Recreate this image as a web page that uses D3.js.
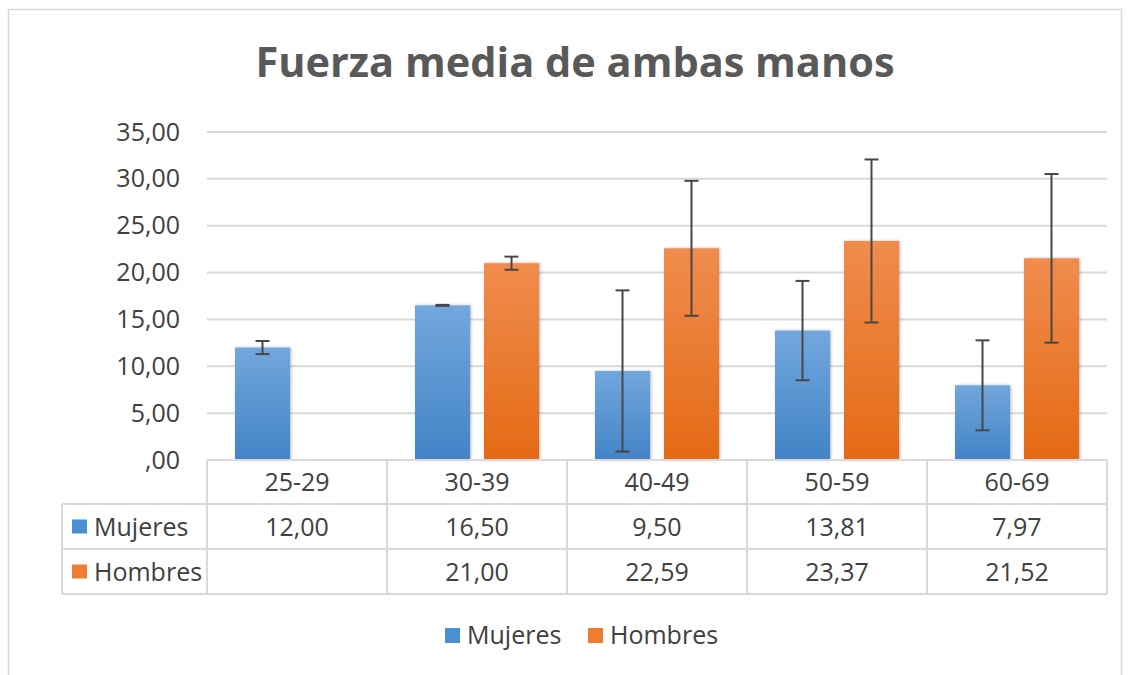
<!DOCTYPE html>
<html>
<head>
<meta charset="utf-8">
<script src="https://cdn.jsdelivr.net/npm/d3@7"></script>
<style>
  html, body { margin: 0; padding: 0; background: #fff; }
  svg { display: block; }
</style>
</head>
<body>
<div id="chart"></div>
<script>
// ---- Data ----
const ageGroups = ['25-29', '30-39', '40-49', '50-59', '60-69']
const seriesNames = ['Mujeres', 'Hombres']
const mujeres = [12.00, 16.50, 9.50, 13.81, 7.97]
const hombres = [null, 21.00, 22.59, 23.37, 21.52]
const mujeresErr = [0.7, 0.05, 8.6, 5.3, 4.8]
const hombresErr = [null, 0.7, 7.2, 8.7, 9.0]
const yTicks = [0, 5, 10, 15, 20, 25, 30, 35]

const W = 1130, H = 675
const plot = { left: 207, right: 1107, top: 132, bottom: 460 }
const rowsY = [460, 504, 549, 594]
const tableLeft = 62
const font = '"Open Sans", sans-serif'
const fontSize = '25px'
const textColor = '#404040'
const gridColor = '#d9d9d9'
const colors = {
  Mujeres: { top: '#72a7dd', bottom: '#4283c6', key: '#4a8fd2' },
  Hombres: { top: '#f08c4e', bottom: '#e46a14', key: '#ed7d31' }
}

const locale = d3.formatLocale({ decimal: ',', thousands: '.', grouping: [3], currency: ['', ''] })
const fmt = locale.format('.2f')
const tickFmt = d => d === 0 ? ',00' : fmt(d)

const svg = d3.select('#chart').append('svg')
  .attr('width', W).attr('height', H)

// ---- Defs: gradients + shadow ----
const defs = svg.append('defs')
seriesNames.forEach(s => {
  const g = defs.append('linearGradient')
    .attr('id', 'grad-' + s).attr('x1', 0).attr('y1', 0).attr('x2', 0).attr('y2', 1)
  g.append('stop').attr('offset', '0%').attr('stop-color', colors[s].top)
  g.append('stop').attr('offset', '100%').attr('stop-color', colors[s].bottom)
})
const shadow = defs.append('filter').attr('id', 'shadow')
  .attr('x', '-20%').attr('y', '-5%').attr('width', '140%').attr('height', '110%')
shadow.append('feDropShadow')
  .attr('dx', 1).attr('dy', 0).attr('stdDeviation', 1.5)
  .attr('flood-color', '#000').attr('flood-opacity', 0.3)

// ---- Outer frame ----
svg.append('rect')
  .attr('x', 8.5).attr('y', 9.5).attr('width', 1113).attr('height', 680)
  .attr('fill', 'none').attr('stroke', gridColor).attr('stroke-width', 1.5)

// ---- Title ----
svg.append('text')
  .attr('x', 575).attr('y', 77)
  .attr('text-anchor', 'middle')
  .attr('font-family', font).attr('font-weight', 'bold').attr('font-size', '41.5px')
  .attr('fill', '#595959')
  .text('Fuerza media de ambas manos')

// ---- Scales ----
const x = d3.scaleBand().domain(ageGroups).range([plot.left, plot.right])
const xs = d3.scaleBand().domain(seriesNames).range([0, x.bandwidth()])
  .paddingInner(0.203).paddingOuter(0.406)
const y = d3.scaleLinear().domain([0, 35]).range([plot.bottom, plot.top])

// Gridlines
svg.append('g')
  .selectAll('line')
  .data(yTicks.filter(d => d > 0))
  .join('line')
  .attr('x1', plot.left).attr('x2', plot.right)
  .attr('y1', d => y(d)).attr('y2', d => y(d))
  .attr('stroke', gridColor).attr('stroke-width', 2)

// Y axis
svg.append('g')
  .attr('transform', 'translate(183,0)')
  .call(d3.axisLeft(y).tickValues(yTicks).tickFormat(tickFmt).tickSize(0))
  .call(g => {
    g.select('.domain').remove()
    g.selectAll('.tick text')
      .attr('fill', textColor).attr('font-size', fontSize).attr('font-family', font)
  })

// ---- Bars ----
const barData = []
ageGroups.forEach((a, i) => {
  barData.push({ age: a, series: 'Mujeres', value: mujeres[i], err: mujeresErr[i] })
  barData.push({ age: a, series: 'Hombres', value: hombres[i], err: hombresErr[i] })
})
const validBars = barData.filter(d => d.value != null)

svg.append('g')
  .selectAll('rect')
  .data(validBars)
  .join('rect')
  .attr('x', d => x(d.age) + xs(d.series))
  .attr('y', d => y(d.value))
  .attr('width', xs.bandwidth())
  .attr('height', d => y(0) - y(d.value))
  .attr('fill', d => `url(#grad-${d.series})`)
  .attr('filter', 'url(#shadow)')

// Error bars
const errG = svg.append('g')
  .attr('stroke', '#474747').attr('stroke-width', 2)
const capW = 7
validBars.forEach(d => {
  const cx = x(d.age) + xs(d.series) + xs.bandwidth() / 2
  const y1 = y(d.value + d.err), y2 = y(d.value - d.err)
  errG.append('line').attr('x1', cx).attr('x2', cx).attr('y1', y1).attr('y2', y2)
  errG.append('line').attr('x1', cx - capW).attr('x2', cx + capW).attr('y1', y1).attr('y2', y1)
  errG.append('line').attr('x1', cx - capW).attr('x2', cx + capW).attr('y1', y2).attr('y2', y2)
})

// ---- Data table ----
const tbl = svg.append('g').attr('stroke', gridColor).attr('stroke-width', 2)
tbl.append('line').attr('x1', plot.left).attr('x2', plot.right).attr('y1', rowsY[0]).attr('y2', rowsY[0])
rowsY.slice(1).forEach(ry => {
  tbl.append('line').attr('x1', tableLeft).attr('x2', plot.right).attr('y1', ry).attr('y2', ry)
})
tbl.append('line').attr('x1', tableLeft).attr('x2', tableLeft).attr('y1', rowsY[1]).attr('y2', rowsY[3])
const colEdges = ageGroups.map(a => x(a)).concat([plot.right])
colEdges.forEach(cx => {
  tbl.append('line').attr('x1', cx).attr('x2', cx).attr('y1', rowsY[0]).attr('y2', rowsY[3])
})

const tableText = svg.append('g')
  .attr('font-family', font).attr('font-size', fontSize).attr('fill', textColor)

// header row
tableText.selectAll('.hdr')
  .data(ageGroups)
  .join('text')
  .attr('class', 'hdr')
  .attr('x', d => x(d) + x.bandwidth() / 2)
  .attr('y', (rowsY[0] + rowsY[1]) / 2 + 9)
  .attr('text-anchor', 'middle')
  .text(d => d)

const tableRows = [{ name: 'Mujeres', values: mujeres }, { name: 'Hombres', values: hombres }]
tableRows.forEach((r, ri) => {
  const cy = (rowsY[ri + 1] + rowsY[ri + 2]) / 2
  svg.append('rect')
    .attr('x', tableLeft + 10).attr('y', cy - 7).attr('width', 15).attr('height', 14)
    .attr('fill', colors[r.name].key)
  tableText.append('text')
    .attr('x', tableLeft + 32).attr('y', cy + 9)
    .text(r.name)
  tableText.selectAll('.v' + ri)
    .data(r.values.map((v, i) => ({ v, age: ageGroups[i] })).filter(d => d.v != null))
    .join('text')
    .attr('x', d => x(d.age) + x.bandwidth() / 2)
    .attr('y', cy + 9)
    .attr('text-anchor', 'middle')
    .text(d => fmt(d.v))
})

// ---- Legend ----
const legend = svg.append('g').attr('transform', 'translate(445,635)')
const legendX = [0, 143]
seriesNames.forEach((s, i) => {
  const g = legend.append('g').attr('transform', `translate(${legendX[i]},0)`)
  g.append('rect').attr('x', 0).attr('y', -7).attr('width', 15).attr('height', 15)
    .attr('fill', colors[s].key)
  g.append('text').attr('x', 22).attr('y', 9)
    .attr('font-family', font).attr('font-size', fontSize).attr('fill', textColor)
    .text(s)
})
</script>
</body>
</html>
